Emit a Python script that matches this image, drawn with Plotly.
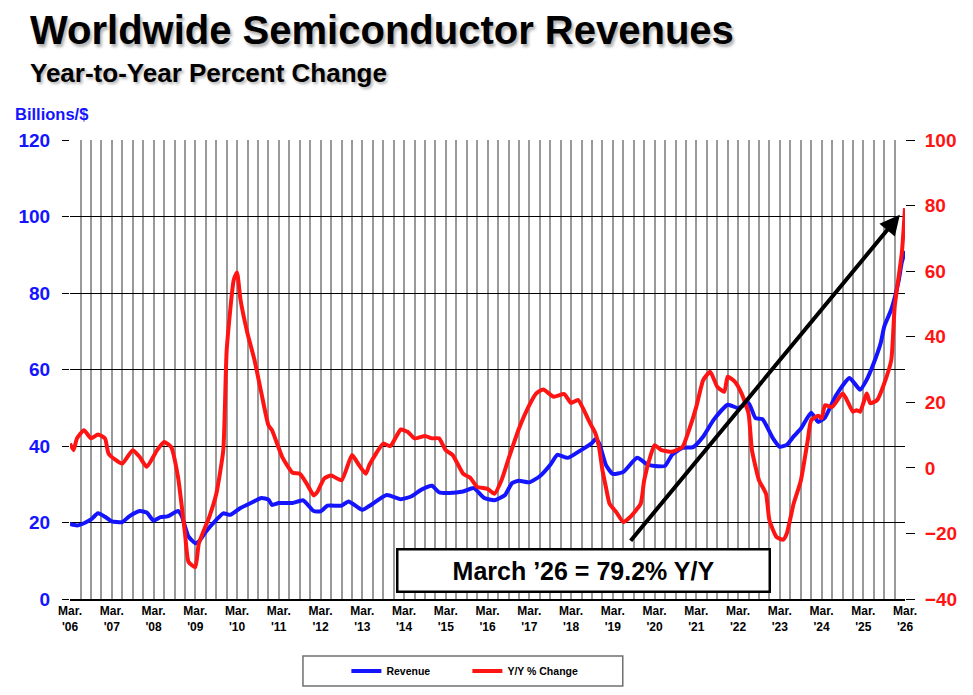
import pandas as pd
import plotly.graph_objects as go

# month offsets counted from March 2006
rev_months = [0, 2, 4, 6, 8, 10, 12, 15, 17, 20, 22, 24, 26, 28, 31, 32, 34, 36, 37, 39,
              42, 44, 46, 49, 52, 55, 57, 58, 60, 64, 67, 70, 72, 74, 78, 80, 84, 86, 91, 95,
              98, 101, 104, 106, 109, 113, 116, 119, 122, 125, 127, 129, 132, 135, 138, 140,
              143, 147, 150, 151, 152, 154, 156, 159, 163, 166, 169, 171, 173, 176, 179, 182,
              185, 189, 192, 195, 197, 199, 202, 204, 206, 208, 210, 213, 215, 217, 220, 224,
              227, 229, 231, 233, 234, 236, 238, 239, 240]
revenue = [19.6, 19.2, 19.8, 20.8, 22.4, 21.5, 20.3, 20.1, 21.6, 23.0, 22.6, 20.5, 21.4, 21.6,
           23.0, 21.8, 16.3, 14.6, 15.0, 17.6, 20.7, 22.4, 22.0, 23.8, 25.1, 26.4, 26.0, 24.6,
           25.1, 25.1, 25.8, 23.0, 22.9, 24.4, 24.4, 25.5, 23.3, 24.3, 27.2, 26.1, 26.8, 28.6,
           29.6, 27.9, 27.7, 28.1, 29.0, 26.4, 25.8, 27.2, 30.3, 30.9, 30.5, 32.1, 35.1, 37.7,
           36.9, 39.0, 40.8, 41.8, 40.8, 35.0, 32.7, 33.2, 36.9, 35.1, 34.7, 34.8, 37.7, 39.5,
           39.7, 42.5, 46.9, 50.8, 49.9, 51.2, 47.3, 47.0, 42.0, 39.8, 40.3, 42.5, 44.5, 48.7,
           46.3, 47.5, 53.0, 57.8, 54.7, 57.4, 61.7, 67.0, 71.3, 75.7, 82.7, 88.0, 91.0]

yoy_months = [0, 1, 2, 4, 6, 8, 10, 11, 13, 15, 18, 20, 22, 25, 27, 29, 31, 33, 34, 36, 37, 40,
              42, 44, 45, 47, 48, 49, 51, 53, 55, 57, 58, 61, 64, 66, 68, 70, 71, 73, 75, 78, 81,
              83, 85, 86, 90, 92, 95, 97, 99, 102, 104, 106, 108, 110, 113, 115, 117, 120, 122,
              124, 126, 129, 131, 134, 136, 139, 142, 144, 146, 149, 150, 151, 152, 153, 154,
              155, 157, 159, 161, 164, 165, 167, 168, 170, 173, 176, 178, 180, 182, 184, 186,
              188, 189, 191, 193, 195, 196, 198, 200, 201, 203, 205, 206, 208, 210, 212, 213,
              215, 216, 217, 219, 222, 223, 225, 226, 227, 229, 230, 232, 234, 236, 237, 239, 240]
yoy_change = [7.4, 5.4, 9.0, 11.5, 9.0, 10.2, 9.0, 4.4, 2.5, 1.3, 5.4, 3.3, 0.3, 5.4, 7.9, 6.4,
              -2.8, -20.0, -28.7, -30.3, -23.1, -15.0, -7.9, 5.4, 36.0, 57.4, 59.6, 51.2, 41.0,
              32.9, 22.7, 13.0, 11.5, 3.3, -1.5, -1.8, -4.8, -8.4, -7.4, -3.3, -2.3, -3.8, 3.9,
              0.8, -1.8, 0.8, 7.4, 6.6, 11.7, 11.0, 9.0, 9.7, 9.0, 9.0, 5.4, 3.9, -1.8, -3.0,
              -5.8, -6.4, -7.9, -3.8, 2.8, 12.0, 17.1, 22.7, 23.9, 21.7, 22.5, 19.8, 20.7, 14.6,
              12.5, 10.5, 6.4, -0.7, -6.0, -10.9, -13.5, -16.5, -15.0, -10.9, -3.8, 4.4, 6.9,
              5.4, 4.9, 6.4, 12.0, 18.6, 26.8, 29.3, 24.7, 23.2, 27.8, 26.3, 22.7, 16.6, 5.4,
              -3.8, -7.9, -16.0, -21.1, -21.9, -20.1, -10.9, -4.0, 8.4, 14.5, 15.9, 15.1, 19.1,
              18.6, 22.7, 21.2, 17.1, 17.6, 17.1, 22.7, 19.7, 20.7, 25.8, 32.9, 49.2, 65.5, 79.2]

years = list(range(2006, 2027))
tick_dates = [f"{y}-03-01" for y in years]
tick_text = [f"Mar.<br>'{y % 100:02d}" for y in years]

start = pd.Timestamp("2006-03-01")


def to_dates(months):
    return [start + pd.DateOffset(months=m) for m in months]


FONT = "Arial, Liberation Sans, sans-serif"
BLUE = "#1414ff"
RED = "#ff1414"

fig = go.Figure()
fig.add_trace(go.Scatter(
    x=to_dates(rev_months), y=revenue, name="Revenue", mode="lines",
    line=dict(color=BLUE, width=4, shape="spline", smoothing=0.5),
))
fig.add_trace(go.Scatter(
    x=to_dates(yoy_months), y=yoy_change, name="Y/Y % Change", mode="lines", yaxis="y2",
    line=dict(color=RED, width=4, shape="spline", smoothing=0.5),
))

# page body keeps its default 8px margin, so the figure is 16px smaller than the window
fig.update_layout(
    width=957, height=679,
    margin=dict(l=62, r=60, t=132, b=88, autoexpand=False),
    paper_bgcolor="white", plot_bgcolor="white",
    font=dict(family=FONT, color="black"),
    showlegend=True,
    legend=dict(
        orientation="h", x=0.331, xanchor="left", y=-0.157, yanchor="middle",
        bgcolor="rgba(0,0,0,0)", entrywidth=76, entrywidthmode="pixels",
        font=dict(size=10.5, family=FONT, weight="bold"),
    ),
    xaxis=dict(
        type="date", range=["2006-03-01", "2026-03-01"], automargin=False,
        tickvals=tick_dates, ticktext=tick_text,
        tickfont=dict(size=12, family=FONT, weight="bold", color="black"),
        showgrid=True, gridcolor="#9a9a9a", gridwidth=1.5,
        minor=dict(dtick="M3", tick0="2006-03-01", showgrid=True, gridcolor="#9a9a9a", gridwidth=1.5),
        showline=True, linecolor="black", linewidth=2,
        ticks="", zeroline=False,
    ),
    yaxis=dict(
        range=[0, 120], dtick=20, automargin=False,
        tickfont=dict(size=19, family=FONT, weight="bold", color=BLUE),
        showgrid=True, gridcolor="black", gridwidth=1,
        ticks="outside", ticklen=7, tickcolor="black", ticklabelstandoff=8,
        zeroline=False, showline=False,
    ),
    yaxis2=dict(
        range=[-40, 100], dtick=20, overlaying="y", side="right", automargin=False,
        tickfont=dict(size=19, family=FONT, weight="bold", color=RED),
        showgrid=False, ticks="outside", ticklen=9, tickcolor="black", ticklabelstandoff=6,
        zeroline=False, showline=False,
    ),
)

fig.add_annotation(
    xref="paper", yref="paper", x=-0.05, y=1.24, xanchor="left", yanchor="middle",
    text="<b>Worldwide Semiconductor Revenues</b>", showarrow=False,
    font=dict(size=40, family=FONT, color="black", shadow="2px 3px 3px #b0b0b0"),
)
fig.add_annotation(
    xref="paper", yref="paper", x=-0.05, y=1.146, xanchor="left", yanchor="middle",
    text="<b>Year-to-Year Percent Change</b>", showarrow=False,
    font=dict(size=26, family=FONT, color="black", shadow="2px 2px 3px #b0b0b0"),
)
fig.add_annotation(
    xref="paper", yref="paper", x=-0.068, y=1.057, xanchor="left", yanchor="middle",
    text="<b>Billions/$</b>", showarrow=False,
    font=dict(size=16.5, family=FONT, color=BLUE),
)

# arrow pointing at the latest Y/Y value
fig.add_annotation(
    x="2026-01-15", y=77.2, xref="x", yref="y2",
    ax="2019-07-25", ay=-22.7, axref="x", ayref="y2",
    text="", showarrow=True, arrowhead=2, arrowsize=1, arrowwidth=4, arrowcolor="black",
)
fig.add_annotation(
    xref="paper", yref="paper", x=0.615, y=0.062, xanchor="center", yanchor="middle",
    text="<b>March ’26 = 79.2% Y/Y</b>", showarrow=False,
    width=368, height=38, bgcolor="white", bordercolor="black", borderwidth=2.5,
    font=dict(size=25, family=FONT, color="black"),
)

# frame round the legend
fig.add_shape(
    type="rect", xref="paper", yref="paper",
    x0=0.279, x1=0.662, y0=-0.1895, y1=-0.124,
    line=dict(color="#707070", width=1.5), fillcolor="rgba(0,0,0,0)",
)

fig.write_html("out.html")
